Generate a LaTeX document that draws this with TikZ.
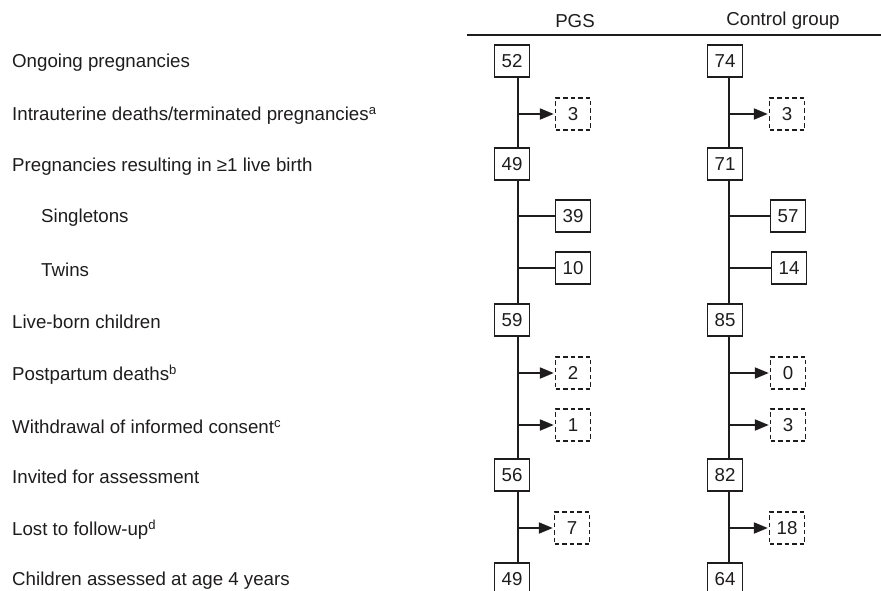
\documentclass[tikz,border=0pt]{standalone}
\usepackage{fontspec}
\setmainfont{Liberation Sans}
\usetikzlibrary{arrows.meta,positioning}
\definecolor{ink}{RGB}{30,28,28}

\begin{document}
\begin{tikzpicture}[
  x=1pt,y=-1pt,
  font=\fontsize{18.7}{22}\selectfont,
  lbl/.style={anchor=west,inner sep=0pt,text=ink},
  head/.style={inner sep=0pt,text=ink},
  count/.style={rectangle,draw=ink,line width=1.4pt,minimum width=35pt,minimum height=32pt,inner sep=0pt,text=ink},
  drop/.style={count,dash pattern=on 4.5pt off 3pt},
  spine/.style={draw=ink,line width=2pt},
  branch/.style={draw=ink,line width=1.4pt},
  >={Triangle[length=14pt,width=11pt]}
]
\useasboundingbox (0,0) rectangle (881,590);

% header
\node[head] (hPGS) at (575,21) {PGS};
\node[head] (hCtl) at (783,21) {Control group};
\coordinate (ruleL) at (467,35);
\coordinate (ruleR) at (881,35);
\draw[ink,line width=2.5pt] (ruleL) -- (ruleR);

% row labels
\node[lbl] (lOngoing) at (12,63) {Ongoing pregnancies};
\node[lbl] (lIntra) at (12,116) {Intrauterine deaths/terminated pregnancies\textsuperscript{a}};
\node[lbl] (lLive) at (12,167) {Pregnancies resulting in ≥1 live birth};
\node[lbl] (lSingle) at (41,218) {Singletons};
\node[lbl] (lTwins) at (41,270) {Twins};
\node[lbl] (lBorn) at (12,322) {Live-born children};
\node[lbl] (lPost) at (12,375) {Postpartum deaths\textsuperscript{b}};
\node[lbl] (lWithdraw) at (12,427) {Withdrawal of informed consent\textsuperscript{c}};
\node[lbl] (lInvited) at (12,477) {Invited for assessment};
\node[lbl] (lLost) at (12,530) {Lost to follow-up\textsuperscript{d}};
\node[lbl] (lAssessed) at (12,581) {Children assessed at age 4 years};

% PGS column
\coordinate (pgs) at (518,0);
\node[count] (p52) at (512,61) {52};
\node[drop] (pIntra) at (573,114) {3};
\node[count] (p49) at (512,164) {49};
\node[count] (pSingle) at (573,216) {39};
\node[count] (pTwins) at (573,268) {10};
\node[count] (p59) at (512,320) {59};
\node[drop] (pPost) at (573,373) {2};
\node[drop] (pWithdraw) at (573,425) {1};
\node[count] (p56) at (512,475) {56};
\node[drop] (pLost) at (572,528) {7};
\node[count] (p49b) at (512,579) {49};

% control column
\coordinate (ctl) at (729,0);
\node[count] (c74) at (725,61) {74};
\node[drop] (cIntra) at (787,114) {3};
\node[count] (c71) at (725,164) {71};
\node[count] (cSingle) at (788,216) {57};
\node[count] (cTwins) at (789,268) {14};
\node[count] (c85) at (725,320) {85};
\node[drop] (cPost) at (788,373) {0};
\node[drop] (cWithdraw) at (788,425) {3};
\node[count] (c82) at (725,475) {82};
\node[drop] (cLost) at (787,528) {18};
\node[count] (c64) at (725,579) {64};

% PGS flow
\draw[spine] (pgs |- p52.south) -- (pgs |- p49.north);
\draw[spine] (pgs |- p49.south) -- (pgs |- p59.north);
\draw[spine] (pgs |- p59.south) -- (pgs |- p56.north);
\draw[spine] (pgs |- p56.south) -- (pgs |- p49b.north);
\draw[spine,->,shorten >=1pt] (pgs |- pIntra.west) -- (pIntra.west);
\draw[branch] (pgs |- pSingle.west) -- (pSingle.west);
\draw[branch] (pgs |- pTwins.west) -- (pTwins.west);
\draw[spine,->,shorten >=1pt] (pgs |- pPost.west) -- (pPost.west);
\draw[spine,->,shorten >=1pt] (pgs |- pWithdraw.west) -- (pWithdraw.west);
\draw[spine,->,shorten >=1pt] (pgs |- pLost.west) -- (pLost.west);

% control flow
\draw[spine] (ctl |- c74.south) -- (ctl |- c71.north);
\draw[spine] (ctl |- c71.south) -- (ctl |- c85.north);
\draw[spine] (ctl |- c85.south) -- (ctl |- c82.north);
\draw[spine] (ctl |- c82.south) -- (ctl |- c64.north);
\draw[spine,->,shorten >=1pt] (ctl |- cIntra.west) -- (cIntra.west);
\draw[branch] (ctl |- cSingle.west) -- (cSingle.west);
\draw[branch] (ctl |- cTwins.west) -- (cTwins.west);
\draw[spine,->,shorten >=1pt] (ctl |- cPost.west) -- (cPost.west);
\draw[spine,->,shorten >=1pt] (ctl |- cWithdraw.west) -- (cWithdraw.west);
\draw[spine,->,shorten >=1pt] (ctl |- cLost.west) -- (cLost.west);
\end{tikzpicture}
\end{document}
